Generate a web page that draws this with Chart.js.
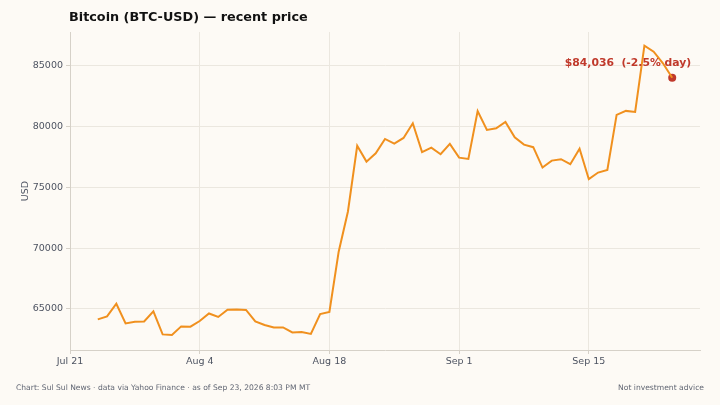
<!DOCTYPE html>
<html>
<head>
<meta charset="utf-8">
<title>Bitcoin (BTC-USD) — recent price</title>
<script src="https://cdn.jsdelivr.net/npm/chart.js@4.4.1/dist/chart.umd.min.js"></script>
<style>
  html, body { margin: 0; padding: 0; background: #fdfaf5; }
  #wrap { width: 720px; height: 405px; position: relative; }
</style>
</head>
<body>
<div id="wrap"><canvas id="chart"></canvas></div>
<script>
// daily closes, Jul 24 -> Sep 24 (last one is the live quote)
const firstDay = 3; // days after Jul 21
const prices = [
  64120, 64370, 65410, 63790, 63930, 63955, 64780, 62885, 62835, 63545,
  63520, 63990, 64610, 64320, 64920, 64940, 64900, 63955, 63660, 63460,
  63460, 63050, 63080, 62920, 64560, 64730, 69700, 73010, 78420, 77120,
  77810, 78990, 78600, 79070, 80280, 77900, 78275, 77730, 78580, 77450,
  77345, 81280, 79730, 79870, 80390, 79130, 78520, 78310, 76630, 77205,
  77320, 76910, 78190, 75675, 76220, 76440, 80970, 81300, 81210, 86670,
  86180, 85220, 84036
];
const tickDays = [0, 14, 28, 42, 56];
const tickLabels = ['Jul 21', 'Aug 4', 'Aug 18', 'Sep 1', 'Sep 15'];
const yTicks = [65000, 70000, 75000, 80000, 85000];
const dayChange = -2.5;

const points = prices.map((p, i) => ({ x: firstDay + i, y: p }));
const last = points[points.length - 1];

const BG = '#fdfaf5';
const GRID = '#ebe7df';
const AXIS = '#d6d1c8';
const TEXT = '#4d5361';
const RED = '#c0392b';

// page background, title, footer and the last-price label
const extras = {
  id: 'extras',
  beforeDraw(chart) {
    const c = chart.ctx;
    c.save();
    c.fillStyle = BG;
    c.fillRect(0, 0, chart.width, chart.height);
    c.restore();
  },
  afterDraw(chart) {
    const c = chart.ctx;
    c.save();
    c.fillStyle = '#111111';
    c.font = 'bold 12.8px "DejaVu Sans"';
    c.textBaseline = 'middle';
    c.textAlign = 'left';
    c.fillText('Bitcoin (BTC-USD) — recent price', 69, 18);

    c.fillStyle = '#626774';
    c.font = '7.6px "DejaVu Sans"';
    c.fillText('Chart: Sul Sul News · data via Yahoo Finance · as of Sep 23, 2026 8:03 PM MT', 16, 388);
    c.textAlign = 'right';
    c.fillText('Not investment advice', 704, 388);

    const xs = chart.scales.x, ys = chart.scales.y;
    const px = xs.getPixelForValue(last.x), py = ys.getPixelForValue(last.y);
    c.fillStyle = RED;
    c.font = 'bold 10.8px "DejaVu Sans"';
    c.textAlign = 'right';
    const txt = '$' + last.y.toLocaleString('en-US') + '  (' + dayChange.toFixed(1) + '% day)';
    c.fillText(txt, px + 19, py - 14);
    c.restore();
  }
};

new Chart(document.getElementById('chart'), {
  type: 'line',
  data: {
    datasets: [{
      data: points,
      borderColor: '#f0901e',
      borderWidth: 2,
      pointRadius: 0,
      tension: 0,
      fill: false
    }, {
      data: [last],
      borderColor: RED,
      backgroundColor: RED,
      pointRadius: 4,
      pointBorderWidth: 0,
      showLine: false
    }]
  },
  options: {
    responsive: true,
    maintainAspectRatio: false,
    animation: false,
    layout: { padding: { left: 16, right: 20, top: 32, bottom: 35 } },
    plugins: { legend: { display: false }, tooltip: { enabled: false } },
    scales: {
      x: {
        type: 'linear',
        min: 0,
        max: 68,
        afterFit(s) { s.height = 20; },
        afterBuildTicks(s) { s.ticks = tickDays.map(v => ({ value: v })); },
        ticks: {
          color: TEXT,
          font: { family: 'DejaVu Sans', size: 9.5 },
          padding: 2,
          maxRotation: 0,
          callback: (v) => tickLabels[tickDays.indexOf(v)]
        },
        grid: { color: GRID, tickColor: AXIS, tickLength: 4 },
        border: { color: AXIS }
      },
      y: {
        min: 61600,
        max: 87800,
        afterFit(s) { s.width = 54; },
        afterBuildTicks(s) { s.ticks = yTicks.map(v => ({ value: v })); },
        ticks: {
          color: TEXT,
          font: { family: 'DejaVu Sans', size: 9.5 },
          padding: 3,
          callback: (v) => String(v)
        },
        grid: { color: GRID, tickColor: AXIS, tickLength: 4 },
        border: { color: AXIS },
        title: {
          display: true,
          text: 'USD',
          color: TEXT,
          font: { family: 'DejaVu Sans', size: 9.5 }
        }
      }
    }
  },
  plugins: [extras]
});
</script>
</body>
</html>
